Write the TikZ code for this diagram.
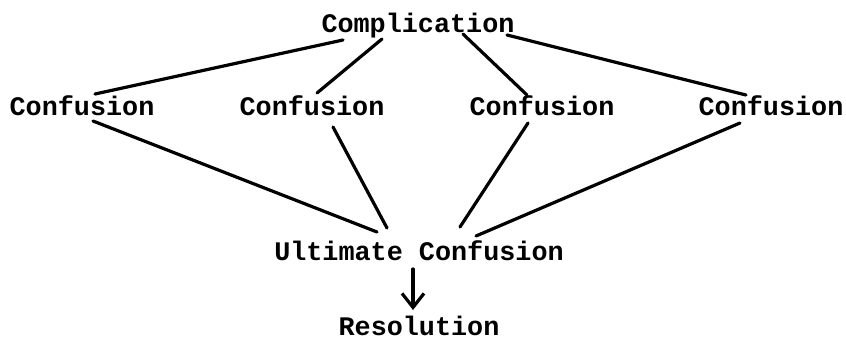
\documentclass[tikz,border=0pt]{standalone}
\usepackage{fontspec}
\setmonofont{Liberation Mono}
\usetikzlibrary{calc,arrows.meta}
\tikzset{
  lbl/.style={font=\ttfamily\bfseries\fontsize{26.8}{30}\selectfont, inner sep=0pt, anchor=base},
  conn/.style={line width=3.2pt, line cap=round},
}
\begin{document}
\begin{tikzpicture}[x=1pt,y=-1pt]
\useasboundingbox (0,0) rectangle (846,343);
\node[lbl] (comp) at (418,32) {Complication};
\node[lbl] (c1) at (82,115) {Confusion};
\node[lbl] (c2) at (312,115) {Confusion};
\node[lbl] (c3) at (542,115) {Confusion};
\node[lbl] (c4) at (771,115) {Confusion};
\node[lbl] (ult) at (419,260) {Ultimate Confusion};
\node[lbl] (res) at (419,335) {Resolution};
% Complication to Confusions
\draw[conn] ($(comp.base)+(-75,8)$) -- ($(c1.base)+(13,-21)$);
\draw[conn] ($(comp.base)+(-36,7)$) -- ($(c2.base)+(5,-22)$);
\draw[conn] ($(comp.base)+(45,2)$) -- ($(c3.base)+(-15,-20)$);
\draw[conn] ($(comp.base)+(89,3)$) -- ($(c4.base)+(-25,-20)$);
% Confusions to Ultimate
\draw[conn] ($(c1.base)+(11,6)$) -- ($(ult.base)+(-42,-28)$);
\draw[conn] ($(c2.base)+(21,12)$) -- ($(ult.base)+(-32,-32)$);
\draw[conn] ($(c3.base)+(-14,8)$) -- ($(ult.base)+(41,-33)$);
\draw[conn] ($(c4.base)+(-31,8)$) -- ($(ult.base)+(57,-24)$);
% Ultimate to Resolution
\draw[conn, -{Straight Barb[length=14pt,width=22pt,line width=3.2pt]}] ($(ult.base)+(-6,9)$) -- ($(res.base)+(-6,-25)$);
\end{tikzpicture}
\end{document}
